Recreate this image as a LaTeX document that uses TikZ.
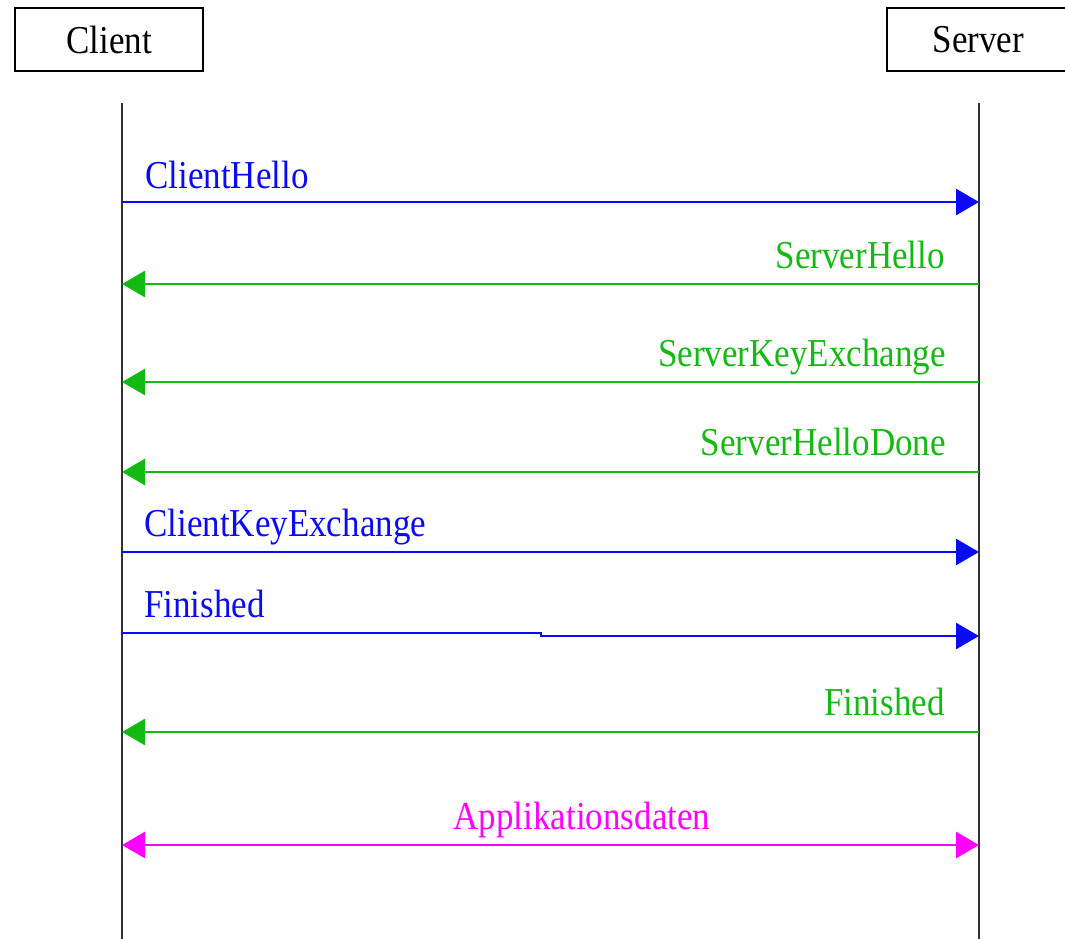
\documentclass[tikz,border=0pt]{standalone}
\usepackage{fontspec}
\setmainfont{Liberation Serif}
\usetikzlibrary{arrows.meta}
\definecolor{msgblue}{RGB}{10,10,245}
\definecolor{msggreen}{RGB}{20,185,20}
\definecolor{msgmag}{RGB}{255,0,255}
\definecolor{lifegray}{RGB}{50,50,50}
\newcommand{\tallname}[1]{\scalebox{1}[1.13]{#1}}
\begin{document}
\begin{tikzpicture}[x=1pt,y=-1pt,
  actor/.style={draw=black,line width=2pt,minimum height=63pt,inner sep=0pt,
    font=\fontsize{35}{40}\selectfont},
  lifeline/.style={draw=lifegray,line width=2pt},
  lbl/.style={inner sep=0pt,font=\fontsize{35}{40}\selectfont,yscale=1.13},
  tipstyle/.style={-{Triangle[length=23pt,width=26pt]}},
  msgb/.style={draw=msgblue,line width=2.8pt,tipstyle},
  msgg/.style={draw=msggreen,line width=2.8pt,tipstyle},
  msgm/.style={draw=msgmag,line width=2.8pt,{Triangle[length=23pt,width=26pt]}-{Triangle[length=23pt,width=26pt]}}
]
\useasboundingbox[fill=white] (0,0) rectangle (1065,938);

% actors
\node[actor,minimum width=188pt] (client) at (109,39.5) {\tallname{Client}};
\node[actor,minimum width=183pt] (server) at (978.5,39.5) {\tallname{Server}};

% lifelines
\coordinate (ctop) at (122,103);
\coordinate (cbot) at (122,940);
\coordinate (stop) at (979,103);
\coordinate (sbot) at (979,940);
\draw[lifeline] (ctop) -- (cbot);
\draw[lifeline] (stop) -- (sbot);

% message end points
\coordinate (c1) at (122,202); \coordinate (s1) at (979,202);
\coordinate (c2) at (122,284); \coordinate (s2) at (979,284);
\coordinate (c3) at (122,382); \coordinate (s3) at (979,382);
\coordinate (c4) at (122,472); \coordinate (s4) at (979,472);
\coordinate (c5) at (122,552); \coordinate (s5) at (979,552);
\coordinate (c6) at (122,633); \coordinate (s6) at (979,636);
\coordinate (j6a) at (541,633); \coordinate (j6b) at (541,636);
\coordinate (c7) at (122,732); \coordinate (s7) at (979,732);
\coordinate (c8) at (122,845); \coordinate (s8) at (979,845);

% messages
\draw[msgb] (c1) -- (s1);
\node[lbl,anchor=base west,text=msgblue] (l1) at (145,188) {ClientHello};

\draw[msgg] (s2) -- (c2);
\node[lbl,anchor=base east,text=msggreen] (l2) at (945,268) {ServerHello};

\draw[msgg] (s3) -- (c3);
\node[lbl,anchor=base east,text=msggreen] (l3) at (946,366) {ServerKeyExchange};

\draw[msgg] (s4) -- (c4);
\node[lbl,anchor=base east,text=msggreen] (l4) at (946,455) {ServerHelloDone};

\draw[msgb] (c5) -- (s5);
\node[lbl,anchor=base west,text=msgblue] (l5) at (144,536) {ClientKeyExchange};

\draw[msgb] (c6) -- (j6a) -- (j6b) -- (s6);
\node[lbl,anchor=base west,text=msgblue] (l6) at (144,617) {Finished};

\draw[msgg] (s7) -- (c7);
\node[lbl,anchor=base east,text=msggreen] (l7) at (945,715) {Finished};

\draw[msgm] (c8) -- (s8);
\node[lbl,anchor=base,text=msgmag] (l8) at (582,829) {Applikationsdaten};
\end{tikzpicture}
\end{document}
